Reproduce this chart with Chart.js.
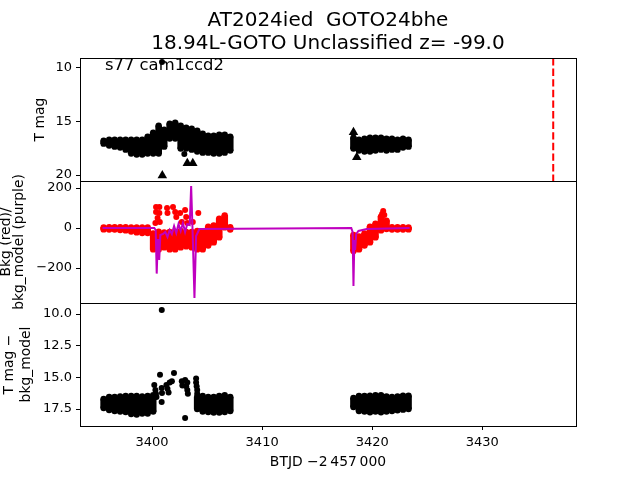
<!DOCTYPE html>
<html>
<head>
<meta charset="utf-8">
<script src="https://cdn.jsdelivr.net/npm/chart.js@4.4.1/dist/chart.umd.min.js"></script>
<style>
  body { margin: 0; background: #fff; }
  #wrap { position: relative; width: 640px; height: 480px; }
  #wrap canvas { position: absolute; left: 0; top: 0; }
</style>
</head>
<body>
<div id="wrap">
  <canvas id="p1" width="640" height="480"></canvas>
  <canvas id="p2" width="640" height="480"></canvas>
  <canvas id="p3" width="640" height="480"></canvas>
</div>
<script>
// axis limits (BTJD - 2457000)
const xMin = 3393.45, xMax = 3438.52;
const xTicks = [3400, 3410, 3420, 3430];
const p1Min = 9.07, p1Max = 20.56, p1Ticks = [10, 15, 20];
const p2Min = -375, p2Max = 235, p2Ticks = [-200, 0, 200];
const p3Min = 9.13, p3Max = 18.84, p3Ticks = [10.0, 12.5, 15.0, 17.5];

// time grids of the two orbits
const t1 = [3395.6, 3396.1, 3396.6, 3397.1, 3397.6, 3398.1, 3398.6, 3399.1, 3399.6, 3400.1, 3400.6, 3401.1,
            3401.6, 3402.1, 3402.6, 3403.1, 3403.6, 3404.1, 3404.6, 3405.1, 3405.6, 3406.1, 3406.6, 3407.1];
const t2 = [3418.3, 3418.8, 3419.3, 3419.8, 3420.3, 3420.8, 3421.3, 3421.8, 3422.3, 3422.8, 3423.3];

// panel 1: T mag, upper and lower edge of the point cloud
const mag1Top = [16.79, 16.70, 16.70, 16.70, 16.70, 16.70, 16.70, 16.70, 16.42, 16.05, 15.40, 15.77,
                 15.21, 15.12, 15.40, 15.58, 15.67, 15.86, 16.14, 16.33, 16.33, 16.23, 16.23, 16.42];
const mag1Bot = [17.07, 17.25, 17.35, 17.44, 17.63, 18.00, 18.09, 18.09, 18.00, 18.00, 18.00, 17.35,
                 16.60, 16.60, 17.53, 17.53, 17.63, 17.81, 17.91, 17.91, 18.00, 18.00, 17.91, 17.72];
const mag2Top = [16.51, 16.70, 16.60, 16.51, 16.51, 16.51, 16.60, 16.60, 16.70, 16.60, 16.70];
const mag2Bot = [17.53, 17.72, 17.81, 17.81, 17.72, 17.63, 17.72, 17.63, 17.63, 17.44, 17.35];
const limT = [3400.93, 3403.2, 3403.7, 3418.3, 3418.6];
const limMag = [20.05, 18.9, 18.9, 16.0, 18.35];
const odd1T = [3400.9, 3402.93];
const odd1Mag = [9.44, 18.03];
const flagT = 3436.45;

// panel 2: background flux (red) and background model (purple)
const bkg1Top = [3, 4, 4, 4, 4, 3, 3, 3, 3, -27, -18, -22, -20, -20, -15, -20, -20, -15, -18, 7, 13, 47, 63, 4];
const bkg1Bot = [-7, -8, -8, -10, -12, -18, -22, -25, -25, -107, -107, -97, -107, -107, -97, -92, -97, -107,
                 -107, -88, -72, -47, 3, -8];
const bkg2Top = [-35, -42, -27, 7, 22, 57, 37, 4, 4, 4, 3];
const bkg2Bot = [-115, -107, -88, -72, -47, -12, -5, -8, -8, -8, -7];
const bkgOddT = [3400.36, 3400.66, 3400.36, 3400.66, 3400.3, 3400.5, 3400.7, 3401.36, 3401.4, 3401.9, 3402.1,
                 3402.2, 3402.55, 3402.7, 3403.0, 3403.1, 3403.2, 3404.2, 3403.7, 3421.0, 3420.9, 3421.1];
const bkgOddV = [105, 105, 80, 75, 25, 50, 30, 100, 75, 105, 80, 55, 75, 30, 90, 55, 25, 75, 30, 85, 70, 65];
const modelT = [3395.5, 3400.2, 3400.33, 3400.42, 3400.52, 3400.58, 3400.65, 3400.75, 3401.0, 3401.2, 3401.4,
                3401.6, 3401.8, 3402.0, 3402.2, 3402.4, 3402.6, 3402.8, 3403.0, 3403.2, 3403.42, 3403.55,
                3403.7, 3403.85, 3404.0, 3404.3, 3418.1, 3418.22, 3418.3, 3418.38, 3418.45, 3418.55, 3418.75,
                3419.5, 3423.4];
const modelV = [0, 0, -10, -228, -60, -60, -160, -35, -30, -20, -45, -10, -30, 10, -25, 20, -15, 25, -20, 20,
                15, 210, -50, -350, -40, -5, 0, -20, -290, -60, -110, -30, -15, -5, 0];

// panel 3: T mag - bkg_model
const t3a = [3395.6, 3396.1, 3396.6, 3397.1, 3397.6, 3398.1, 3398.6, 3399.1, 3399.6, 3400.1];
const t3b = [3404.1, 3404.6, 3405.1, 3405.6, 3406.1, 3406.6, 3407.1];
const sub1aTop = [16.70, 16.55, 16.55, 16.50, 16.47, 16.47, 16.47, 16.50, 16.47, 16.40];
const sub1aBot = [17.42, 17.58, 17.66, 17.70, 17.74, 17.89, 17.93, 17.85, 17.85, 17.70];
const sub1bTop = [16.55, 16.47, 16.55, 16.55, 16.47, 16.40, 16.55];
const sub1bBot = [17.50, 17.70, 17.74, 17.78, 17.78, 17.74, 17.66];
const sub2Top = [16.63, 16.47, 16.47, 16.45, 16.40, 16.40, 16.50, 16.55, 16.50, 16.45, 16.45];
const sub2Bot = [17.34, 17.66, 17.70, 17.75, 17.70, 17.75, 17.70, 17.65, 17.60, 17.55, 17.50];
const subOddT = [3400.2, 3400.3, 3400.35, 3400.4, 3400.72, 3400.87, 3400.9, 3400.87, 3401.3, 3401.4, 3401.5,
                 3401.6, 3401.8, 3401.99, 3402.7, 3403.0, 3403.2, 3402.75, 3403.1, 3403.2, 3403.25, 3403.0,
                 3404.0, 3404.0, 3404.05, 3404.1, 3404.1, 3404.15, 3400.88];
const subOddMag = [15.6, 16.0, 16.3, 16.55, 14.8, 15.84, 16.24, 16.95, 15.6, 15.9, 16.2, 15.4, 15.3, 14.66,
                   15.3, 15.2, 15.4, 15.65, 15.7, 16.0, 16.3, 18.2, 15.1, 15.4, 15.7, 16.0, 16.3, 16.6, 9.68];

Chart.defaults.font.family = "'DejaVu Sans', sans-serif";
Chart.defaults.color = '#000';

const pts = (xs, ys) => xs.map((x, i) => ({ x: x, y: ys[i] }));
const minus = s => String(s).replace('-', '\u2212');

function dots(xs, ys, color, r, style) {
    return {
        data: pts(xs, ys), showLine: false, fill: false,
        pointStyle: style || 'circle', pointRadius: r,
        pointBackgroundColor: color, pointBorderWidth: 0, borderColor: 'transparent'
    };
}

// body of a point cloud: floating bar from the lower to the upper edge at each time
function cloud(xs, top, bot, color) {
    return {
        type: 'bar', grouped: false, barThickness: 6, borderWidth: 0, backgroundColor: color,
        data: xs.map((x, i) => ({ x: x, y: [bot[i], top[i]] }))
    };
}

// the cloud plus round dots along both of its edges
function blob(xs, top, bot, color) {
    return [dots(xs, top, color, 3.2), dots(xs, bot, color, 3.2), cloud(xs, top, bot, color)];
}

const frame = {
    id: 'frame',
    afterDraw(chart) {
        const { ctx, chartArea: a } = chart;
        ctx.save();
        ctx.strokeStyle = '#000';
        ctx.lineWidth = 1;
        ctx.strokeRect(Math.round(a.left) + 0.5, Math.round(a.top) + 0.5,
                       Math.round(a.right - a.left), Math.round(a.bottom - a.top));
        ctx.restore();
    }
};

const label = {
    id: 'label',
    afterDraw(chart) {
        const ctx = chart.ctx;
        ctx.save();
        ctx.fillStyle = '#000';
        ctx.font = "16.4px 'DejaVu Sans', sans-serif";
        ctx.textBaseline = 'alphabetic';
        ctx.fillText('s77 cam1ccd2', 105, 70);
        ctx.restore();
    }
};

function yAxis(min, max, ticks, fmt, title, titlePad, lineHeight) {
    return {
        type: 'linear', min: min, max: max, reverse: min > 5, beginAtZero: false,
        afterBuildTicks: s => { s.ticks = ticks.map(v => ({ value: v })); },
        afterFit: s => { s.width = 80; },
        grid: { drawOnChartArea: false, drawTicks: true, tickLength: 4, color: '#000' },
        border: { display: false },
        ticks: { color: '#000', font: { size: 13 }, padding: 4, callback: fmt },
        title: { display: true, text: title, color: '#000',
                 font: { size: 13.9, lineHeight: lineHeight }, padding: { top: titlePad, bottom: 0 } }
    };
}

const hiddenX = { type: 'linear', min: xMin, max: xMax, offset: false, grid: { offset: false }, display: false };

function baseOptions(pad, scales, extraPlugins) {
    return {
        responsive: false, animation: false, events: [],
        layout: { padding: pad },
        scales: scales,
        plugins: Object.assign({ legend: { display: false }, tooltip: { enabled: false } }, extraPlugins || {})
    };
}

// panel 1
new Chart(document.getElementById('p1'), {
    type: 'line',
    data: { datasets: [
        { data: [{ x: flagT, y: p1Min }, { x: flagT, y: p1Max }], borderColor: '#ff0000', borderWidth: 2,
          borderDash: [7.4, 3.2], pointRadius: 0, fill: false },
        dots(limT, limMag, '#000', 5.5, 'triangle'),
        dots(odd1T, odd1Mag, '#000', 3),
        ...blob(t1, mag1Top, mag1Bot, '#000'),
        ...blob(t2, mag2Top, mag2Bot, '#000')
    ] },
    options: baseOptions({ left: 0, right: 64, top: 0, bottom: 299 }, {
        x: hiddenX,
        y: yAxis(p1Min, p1Max, p1Ticks, v => String(v), 'T mag', 31.7, 1.2)
    }, {
        title: { display: true, fullSize: false, color: '#000',
                 text: ['AT2024ied  GOTO24bhe', '18.94L-GOTO Unclassified z= -99.0'],
                 font: { size: 20, weight: 'normal', lineHeight: 1.15 }, padding: { top: 9, bottom: 3 } }
    }),
    plugins: [frame, label]
});

// panel 2
new Chart(document.getElementById('p2'), {
    type: 'line',
    data: { datasets: [
        { data: pts(modelT, modelV), borderColor: '#bf00bf', borderWidth: 2, pointRadius: 0, fill: false, tension: 0 },
        dots(bkgOddT, bkgOddV, '#ff0000', 3),
        ...blob(t1, bkg1Top, bkg1Bot, '#ff0000'),
        ...blob(t2, bkg2Top, bkg2Bot, '#ff0000')
    ] },
    options: baseOptions({ left: 0, right: 64, top: 181, bottom: 177 }, {
        x: hiddenX,
        y: yAxis(p2Min, p2Max, p2Ticks, v => minus(v), ['Bkg (red)/', 'bkg_model (purple)'], -1, 1.0)
    }),
    plugins: [frame]
});

// panel 3
new Chart(document.getElementById('p3'), {
    type: 'line',
    data: { datasets: [
        dots(subOddT, subOddMag, '#000', 3),
        ...blob(t3a, sub1aTop, sub1aBot, '#000'),
        ...blob(t3b, sub1bTop, sub1bBot, '#000'),
        ...blob(t2, sub2Top, sub2Bot, '#000')
    ] },
    options: baseOptions({ left: 0, right: 64, top: 303, bottom: 0 }, {
        x: {
            type: 'linear', min: xMin, max: xMax, offset: false,
            afterBuildTicks: s => { s.ticks = xTicks.map(v => ({ value: v })); },
            afterFit: s => { s.height = 54; },
            grid: { offset: false, drawOnChartArea: false, drawTicks: true, tickLength: 4, color: '#000' },
            border: { display: false },
            ticks: { color: '#000', font: { size: 13 }, padding: 5, maxRotation: 0, callback: v => String(v) },
            title: { display: true, text: 'BTJD \u22122\u2009457\u2009000', color: '#000',
                     font: { size: 13.9 }, padding: { top: 0, bottom: 9 } }
        },
        y: yAxis(p3Min, p3Max, p3Ticks, v => v.toFixed(1), ['T mag \u2212', 'bkg_model'], 1, 1.2)
    }),
    plugins: [frame]
});
</script>
</body>
</html>
